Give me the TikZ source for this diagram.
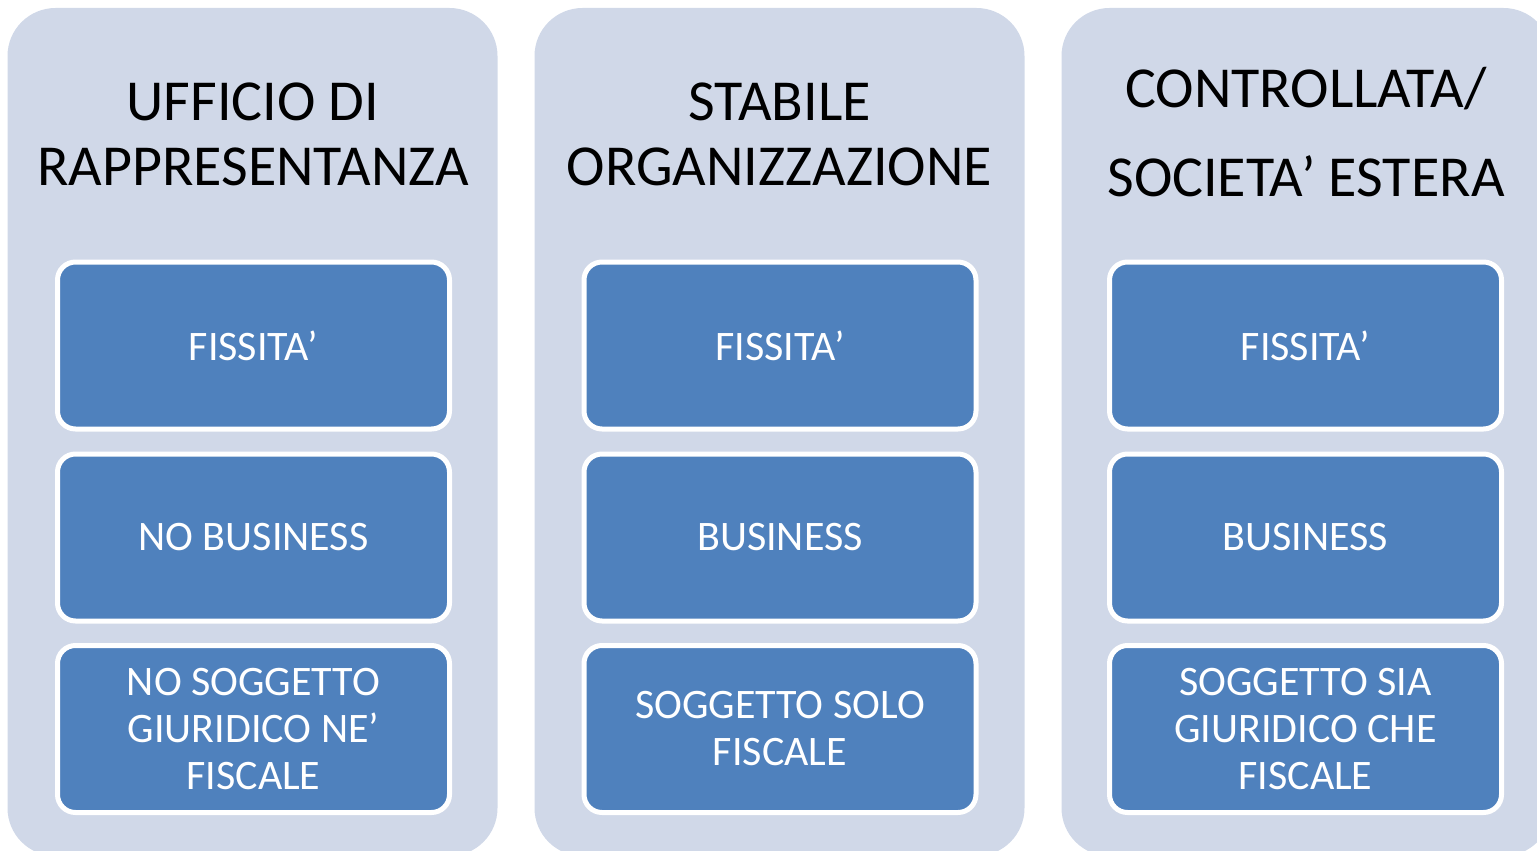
\documentclass[tikz,border=0pt]{standalone}
\usepackage{fontspec}
\setmainfont{Carlito}
\definecolor{panelfill}{HTML}{D0D8E8}
\definecolor{boxfill}{HTML}{4F81BD}
\newcommand\mytitlefont{\fontsize{58}{65}\selectfont}
\newcommand\mytitlefontwide{\fontsize{58}{89}\selectfont}
\newcommand\myboxfont{\fontsize{42}{47}\selectfont}
\begin{document}
\begin{tikzpicture}[x=1pt,y=-1pt,
  panel/.style={rectangle, fill=panelfill, draw=none, rounded corners=48pt,
    minimum width=490pt, minimum height=848pt, inner sep=0pt},
  item/.style={rectangle, fill=boxfill, draw=white, line width=5pt,
    rounded corners=18pt, minimum width=392pt, minimum height=167pt,
    inner sep=0pt, font=\myboxfont, text=white, align=center},
  titletext/.style={inner sep=0pt, align=center, text=black, font=\mytitlefont},
  titlewide/.style={inner sep=0pt, align=center, text=black, font=\mytitlefontwide}]
\useasboundingbox (0,0) rectangle (1537,851);
\clip (0,0) rectangle (1537,851);
% panels
\node[panel] (p1) at (252.5,432) {};
\node[panel] (p2) at (779.5,432) {};
\node[panel] (p3) at (1306.5,432) {};
% titles
\node[titletext] (t1) at (253,134) {UFFICIO DI\\RAPPRESENTANZA};
\node[titletext] (t2) at (779.5,134) {STABILE\\ORGANIZZAZIONE};
\node[titlewide] (t3) at (1306,132) {CONTROLLATA/\\SOCIETA’ ESTERA};
% boxes column 1
\node[item] (a1) at (253.5,345.5) {FISSITA’};
\node[item] (a2) at (253.5,537.5) {NO BUSINESS};
\node[item] (a3) at (253.5,729) {NO SOGGETTO\\GIURIDICO NE’\\FISCALE};
% column 2
\node[item] (b1) at (780,345.5) {FISSITA’};
\node[item] (b2) at (780,537.5) {BUSINESS};
\node[item] (b3) at (780,729) {SOGGETTO SOLO\\FISCALE};
% column 3
\node[item] (c1) at (1305.5,345.5) {FISSITA’};
\node[item] (c2) at (1305.5,537.5) {BUSINESS};
\node[item] (c3) at (1305.5,729) {SOGGETTO SIA\\GIURIDICO CHE\\FISCALE};
\end{tikzpicture}
\end{document}
